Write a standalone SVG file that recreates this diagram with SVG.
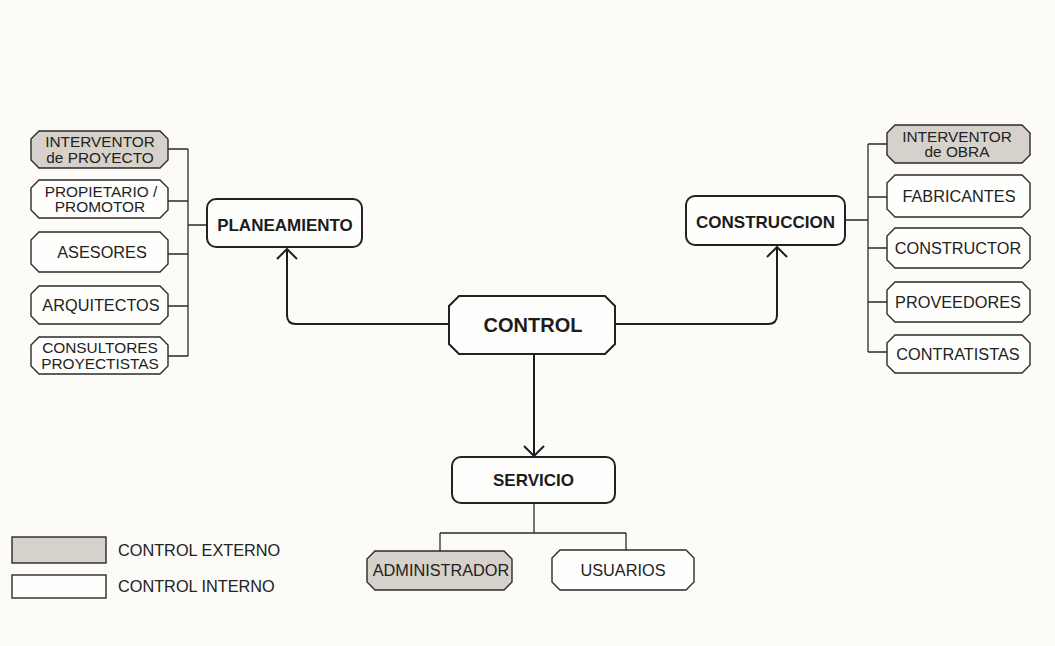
<svg xmlns="http://www.w3.org/2000/svg" width="1055" height="646" viewBox="0 0 1055 646">
<defs>
<style>
.bg{fill:#fcfbf7}
.box{fill:#fefefc;stroke:#2a2a2a;stroke-width:1.4}
.ext{fill:#d6d1ca;stroke:#2a2a2a;stroke-width:1.4}
.main{fill:#fefefc;stroke:#222;stroke-width:2}
.t{font-family:"Liberation Sans",Arial,sans-serif;font-size:16.3px;fill:#222;text-anchor:middle}
.t2{font-family:"Liberation Sans",Arial,sans-serif;font-size:15.4px;fill:#222;text-anchor:middle}
.b{font-family:"Liberation Sans",Arial,sans-serif;font-size:17px;font-weight:bold;fill:#1c1c1c;text-anchor:middle}
.lg{font-family:"Liberation Sans",Arial,sans-serif;font-size:16.3px;fill:#222}
.ln{fill:none;stroke:#2a2a2a;stroke-width:1.3}
.ar{fill:none;stroke:#1e1e1e;stroke-width:2}
</style>
<marker id="arr" markerUnits="userSpaceOnUse" markerWidth="12" markerHeight="22" viewBox="0 0 12 22" refX="11" refY="11" orient="auto">
<path d="M1,1 L11,11 L1,21" fill="none" stroke="#1e1e1e" stroke-width="2"/>
</marker>
</defs>
<rect class="bg" x="0" y="0" width="1055" height="646"/>

<g id="connectors">
<path class="ln" d="M188,149 V356 M168,149 H188 M168,201 H188 M168,254 H188 M168,306 H188 M168,356 H188 M188,225 H207"/>
<path class="ln" d="M868,144 V352 M845,220 H868 M868,144 H887 M868,197 H887 M868,248 H887 M868,302 H887 M868,352 H887"/>
<path class="ln" d="M534,503 V533 M440,533 H626 M440,533 V551 M626,533 V550"/>
<path class="ar" d="M449,324 H296 Q287,324 287,315 V249" marker-end="url(#arr)"/>
<path class="ar" d="M615,324 H768 Q777,324 777,315 V247" marker-end="url(#arr)"/>
<path class="ar" d="M534,354 V456" marker-end="url(#arr)"/>
</g>

<g id="n-interventor-proyecto">
<polygon class="ext" points="39,131 160,131 168,139 168,160 160,168 39,168 31,160 31,139"/>
<text class="t2" x="100" y="147.2">INTERVENTOR</text>
<text class="t2" x="100" y="162.8">de PROYECTO</text>
</g>
<g id="n-propietario">
<polygon class="box" points="39,180 160,180 168,188 168,210 160,218 39,218 31,210 31,188"/>
<text class="t2" x="101" y="196.7">PROPIETARIO /</text>
<text class="t2" x="100" y="212.3">PROMOTOR</text>
</g>
<g id="n-asesores">
<polygon class="box" points="39,232 160,232 168,240 168,264 160,272 39,272 31,264 31,240"/>
<text class="t" x="102" y="257.9">ASESORES</text>
</g>
<g id="n-arquitectos">
<polygon class="box" points="39,286 160,286 168,294 168,316 160,324 39,324 31,316 31,294"/>
<text class="t" x="101" y="310.9">ARQUITECTOS</text>
</g>
<g id="n-consultores">
<polygon class="box" points="39,337 160,337 168,345 168,366 160,374 39,374 31,366 31,345"/>
<text class="t2" x="100" y="353.2">CONSULTORES</text>
<text class="t2" x="100" y="368.8">PROYECTISTAS</text>
</g>

<g id="n-planeamiento">
<rect class="main" x="207" y="199" width="155" height="48" rx="9"/>
<text class="b" x="285" y="231">PLANEAMIENTO</text>
</g>
<g id="n-construccion">
<rect class="main" x="686" y="196" width="159" height="49" rx="9"/>
<text class="b" x="765.5" y="228">CONSTRUCCION</text>
</g>
<g id="n-control">
<polygon class="main" points="459,296 605,296 615,306 615,344 605,354 459,354 449,344 449,306"/>
<text class="b" x="533" y="332" style="font-size:20px">CONTROL</text>
</g>
<g id="n-servicio">
<rect class="main" x="452" y="457" width="163" height="46" rx="9"/>
<text class="b" x="533.5" y="486">SERVICIO</text>
</g>

<g id="n-interventor-obra">
<polygon class="ext" points="895,125 1022,125 1030,133 1030,155 1022,163 895,163 887,155 887,133"/>
<text class="t2" x="957" y="141.7">INTERVENTOR</text>
<text class="t2" x="957" y="157.3">de OBRA</text>
</g>
<g id="n-fabricantes">
<polygon class="box" points="895,175 1022,175 1030,183 1030,209 1022,217 895,217 887,209 887,183"/>
<text class="t" x="959" y="201.9">FABRICANTES</text>
</g>
<g id="n-constructor">
<polygon class="box" points="895,228 1022,228 1030,236 1030,260 1022,268 895,268 887,260 887,236"/>
<text class="t" x="958" y="253.9">CONSTRUCTOR</text>
</g>
<g id="n-proveedores">
<polygon class="box" points="895,282 1022,282 1030,290 1030,314 1022,322 895,322 887,314 887,290"/>
<text class="t" x="958" y="307.9">PROVEEDORES</text>
</g>
<g id="n-contratistas">
<polygon class="box" points="895,335 1022,335 1030,343 1030,365 1022,373 895,373 887,365 887,343"/>
<text class="t" x="958" y="359.9">CONTRATISTAS</text>
</g>

<g id="n-administrador">
<polygon class="ext" points="375,551 504,551 512,559 512,582 504,590 375,590 367,582 367,559"/>
<text class="t" x="441" y="576.4">ADMINISTRADOR</text>
</g>
<g id="n-usuarios">
<polygon class="box" points="560,550 686,550 694,558 694,582 686,590 560,590 552,582 552,558"/>
<text class="t" x="623" y="576">USUARIOS</text>
</g>

<g id="legend">
<rect class="ext" x="12" y="537" width="94" height="26"/>
<text class="lg" x="118" y="556">CONTROL EXTERNO</text>
<rect class="box" x="12" y="575" width="94" height="23"/>
<text class="lg" x="118" y="592">CONTROL INTERNO</text>
</g>
</svg>
